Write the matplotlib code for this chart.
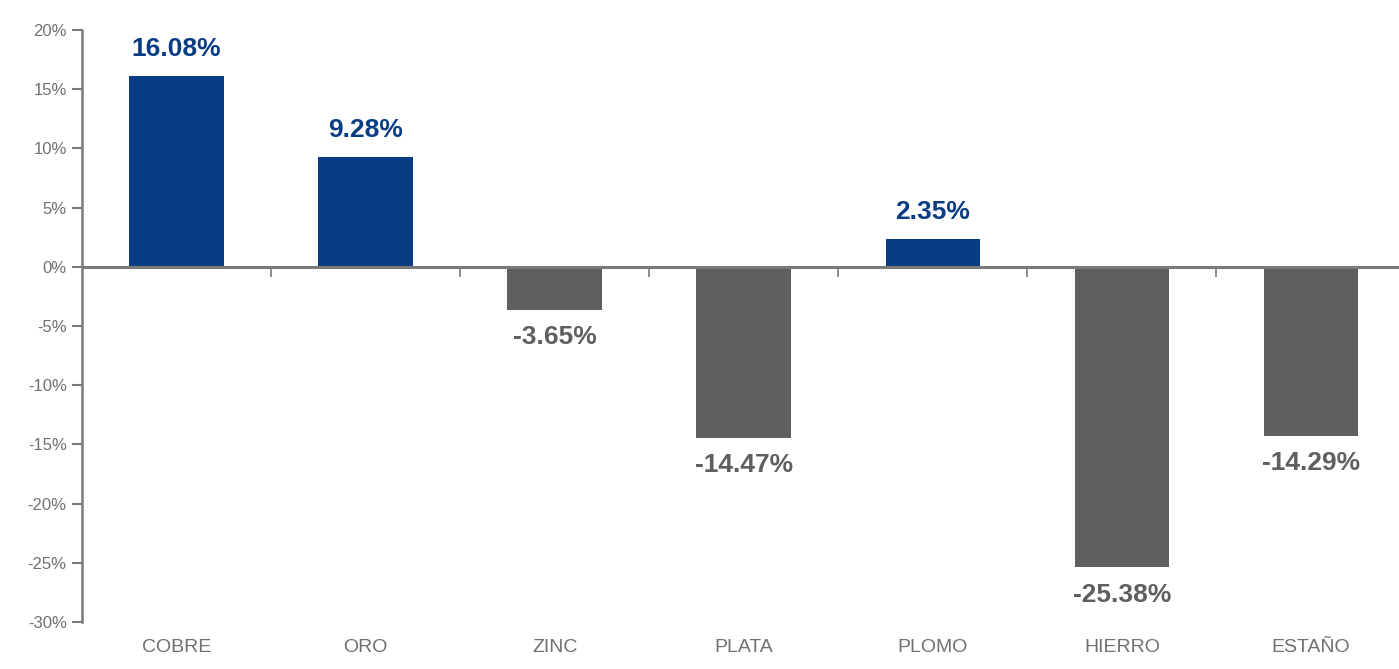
import matplotlib.pyplot as plt
import numpy as np

# variación anual de precios de metales
metales = ['COBRE', 'ORO', 'ZINC', 'PLATA', 'PLOMO', 'HIERRO', 'ESTAÑO']
variacion = [16.08, 9.28, -3.65, -14.47, 2.35, -25.38, -14.29]
yticks = [20, 15, 10, 5, 0, -5, -10, -15, -20, -25, -30]

AZUL = '#083d85'
GRIS = '#5f5f5f'
GRIS_EJE = '#7a7a7a'

plt.rcParams['font.family'] = ['Liberation Sans Narrow', 'Liberation Sans', 'DejaVu Sans']

fig = plt.figure(figsize=(13.99, 6.69), dpi=100)
ax = fig.add_axes([0.0586, 0.0703, 0.946, 0.885])

x = np.arange(len(metales))
colores = [AZUL if v >= 0 else GRIS for v in variacion]
ax.bar(x, variacion, width=0.5, color=colores, zorder=2)

# linea de cero con marcas entre categorias
ax.axhline(0, color=GRIS_EJE, lw=2.2, zorder=3)
ax.vlines(x[:-1] + 0.5, -0.9, 0, color=GRIS_EJE, lw=1.2, zorder=3)

for xi, v in zip(x, variacion):
    if v >= 0:
        ax.annotate(f'{v:.2f}%', (xi, v), xytext=(0, 11), textcoords='offset points',
                    ha='center', va='bottom', fontsize=19, fontweight='bold', color=AZUL)
    else:
        ax.annotate(f'{v:.2f}%', (xi, v), xytext=(0, -11), textcoords='offset points',
                    ha='center', va='top', fontsize=19, fontweight='bold', color=GRIS)

ax.set_xlim(-0.5, len(metales) - 0.5)
ax.set_ylim(-30, 20)
ax.set_yticks(yticks)
ax.set_yticklabels([f'{t}%' for t in yticks])
ax.set_xticks(x)
ax.set_xticklabels(metales)

ax.tick_params(axis='y', colors=GRIS_EJE, labelcolor='#707070', labelsize=12,
               length=7, width=1.5, pad=4)
ax.tick_params(axis='x', length=0, labelcolor='#707070', labelsize=14, pad=12)

for s in ['top', 'right', 'bottom']:
    ax.spines[s].set_visible(False)
ax.spines['left'].set_color(GRIS_EJE)
ax.spines['left'].set_linewidth(1.8)

fig.savefig('out.png', dpi=100)
